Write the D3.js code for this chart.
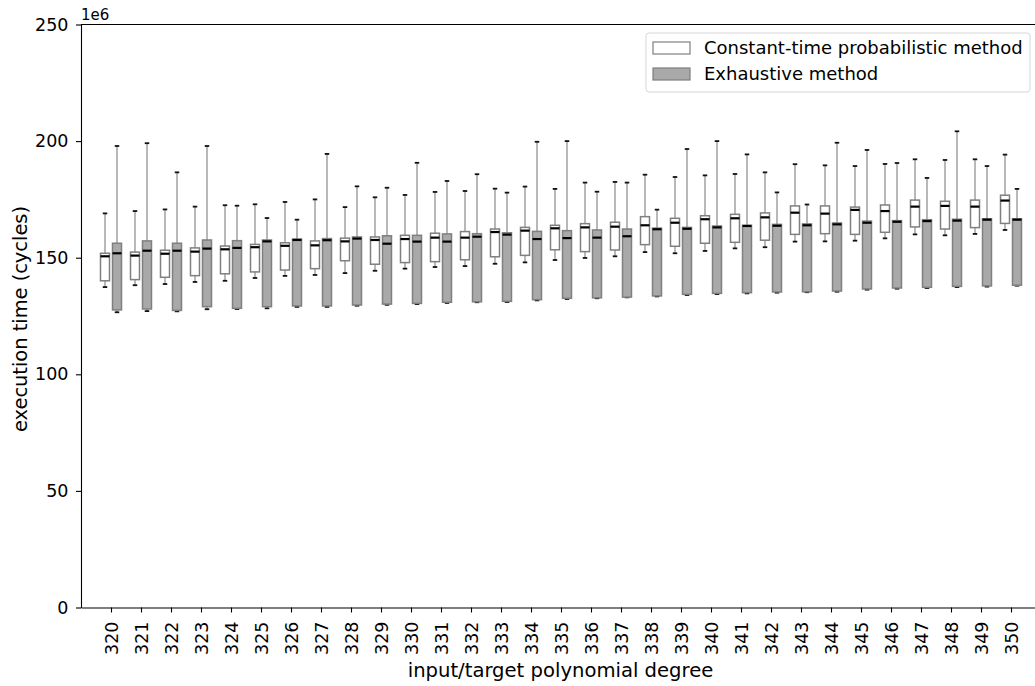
<!DOCTYPE html>
<html>
<head>
<meta charset="utf-8">
<script src="https://cdn.jsdelivr.net/npm/d3@7"></script>
<style>
  body { margin: 0; background: #fff; }
  text { font-family: "DejaVu Sans", sans-serif; }
</style>
</head>
<body>
<div id="chart"></div>
<script>
// polynomial degrees on the x axis
const degrees = d3.range(320, 351);

// values in 1e6 cycles: [lowWhisker, q1, median, q3, highWhisker]
const probLow  = [137.4,138.2,138.7,139.6,140.1,141.3,142.2,142.6,143.4,144.4,145.3,146.0,146.4,147.4,148.0,149.0,149.9,150.6,152.4,151.9,152.9,154.0,154.5,156.9,157.0,157.3,158.3,160.0,159.6,160.2,161.9];
const probQ1   = [140.1,140.6,141.6,142.3,143.1,143.9,144.7,145.3,148.7,147.2,147.9,148.3,149.1,150.4,151.0,153.4,152.6,153.3,155.6,154.9,156.2,156.6,157.5,160.0,160.3,160.0,160.9,163.2,162.3,162.9,164.7];
const probMed  = [150.6,150.9,151.7,152.6,153.6,154.5,155.1,155.3,157.0,157.6,158.0,158.6,158.6,161.0,161.6,162.6,163.0,163.3,163.9,165.0,166.5,166.9,167.3,169.3,168.9,170.5,170.0,171.9,172.2,171.9,174.5];
const probQ3   = [151.9,152.4,153.2,154.2,155.0,155.7,156.4,157.2,158.4,158.9,159.6,160.5,161.2,162.3,163.0,163.9,164.6,165.2,167.6,166.9,168.0,168.6,169.2,172.2,172.2,171.7,172.6,174.7,174.2,174.7,176.8];
const probHigh = [169.0,170.0,170.7,171.9,172.5,172.9,173.9,175.0,171.7,175.9,176.9,178.2,178.6,179.6,180.5,179.5,182.2,182.5,185.6,184.6,185.3,185.9,186.6,190.1,189.6,189.3,190.2,192.2,191.9,192.2,194.2];

const exhLow   = [126.6,127.1,127.0,127.9,128.0,128.3,128.9,128.9,129.4,129.8,130.1,130.6,130.9,131.0,131.7,132.3,132.6,133.0,133.4,134.0,134.4,134.7,135.0,135.2,135.4,136.3,136.7,137.0,137.4,137.6,138.0];
const exhQ1    = [127.6,128.0,127.4,129.0,128.3,129.0,129.3,129.3,129.7,130.1,130.4,130.9,131.1,131.3,132.0,132.6,132.8,133.1,133.6,134.3,134.7,135.0,135.3,135.4,135.7,136.6,137.0,137.3,137.7,137.9,138.2];
const exhMed   = [151.9,153.0,153.0,153.9,154.2,157.0,157.6,157.5,158.2,156.0,156.9,156.9,159.0,159.9,158.0,158.4,158.6,159.2,162.2,162.4,163.0,163.6,163.7,163.9,164.3,165.0,165.4,165.7,165.9,166.3,166.3];
const exhQ3    = [156.2,157.2,156.2,157.6,157.3,157.6,158.0,158.2,158.9,159.4,159.6,160.2,160.3,160.7,161.3,161.6,161.9,162.3,162.7,163.0,163.6,163.9,164.3,164.5,164.9,165.7,165.9,166.3,166.5,166.7,166.7];
const exhHigh  = [197.9,199.1,186.6,197.9,172.3,167.0,166.3,194.5,180.6,180.0,190.7,182.9,185.8,177.9,199.7,200.0,178.3,182.2,170.6,196.6,200.0,194.3,178.0,172.8,199.3,196.2,190.6,184.2,204.2,189.3,179.5];

const yTicks = [0, 50, 100, 150, 200, 250];
const seriesNames = ["Constant-time probabilistic method", "Exhaustive method"];

const W = 1035, H = 686;
const mLeft = 81, mTop = 24.5, mBottom = 607.5;

const svg = d3.select("#chart").append("svg")
  .attr("width", W).attr("height", H);

// x: position index (1 = first degree), 30px per unit
const x = d3.scaleLinear().domain([0, 32]).range([mLeft, mLeft + 32 * 30]);
const y = d3.scaleLinear().domain([0, 250]).range([mBottom, mTop]);

// build box rows for both series
function rows(lo, q1, med, q3, hi, off, fill, edge) {
  return degrees.map((d, i) => ({
    pos: i + 1 + off, lo: lo[i], q1: q1[i], med: med[i], q3: q3[i], hi: hi[i], fill, edge
  }));
}
const boxes = rows(probLow, probQ1, probMed, probQ3, probHigh, -0.2, "#ffffff", "#7f7f7f")
  .concat(rows(exhLow, exhQ1, exhMed, exhQ3, exhHigh, 0.2, "#a9a9a9", "#7f7f7f"));

const bw = x(0.3) - x(0);
const cw = x(0.15) - x(0);

const g = svg.append("g").selectAll("g").data(boxes).join("g");

// whiskers
g.append("line")
  .attr("x1", d => x(d.pos)).attr("x2", d => x(d.pos))
  .attr("y1", d => y(d.q3)).attr("y2", d => y(d.hi))
  .attr("stroke", "#a0a0a0").attr("stroke-width", 1.5);
g.append("line")
  .attr("x1", d => x(d.pos)).attr("x2", d => x(d.pos))
  .attr("y1", d => y(d.q1)).attr("y2", d => y(d.lo))
  .attr("stroke", "#a0a0a0").attr("stroke-width", 1.5);
// caps
g.append("line")
  .attr("x1", d => x(d.pos) - cw / 2).attr("x2", d => x(d.pos) + cw / 2)
  .attr("y1", d => y(d.hi)).attr("y2", d => y(d.hi))
  .attr("stroke", "#111").attr("stroke-width", 1.8);
g.append("line")
  .attr("x1", d => x(d.pos) - cw / 2).attr("x2", d => x(d.pos) + cw / 2)
  .attr("y1", d => y(d.lo)).attr("y2", d => y(d.lo))
  .attr("stroke", "#111").attr("stroke-width", 1.8);
// boxes
g.append("rect")
  .attr("x", d => x(d.pos) - bw / 2).attr("width", bw)
  .attr("y", d => y(d.q3)).attr("height", d => y(d.q1) - y(d.q3))
  .attr("fill", d => d.fill).attr("stroke", d => d.edge).attr("stroke-width", 1.5);
// medians
g.append("line")
  .attr("x1", d => x(d.pos) - bw / 2).attr("x2", d => x(d.pos) + bw / 2)
  .attr("y1", d => y(d.med)).attr("y2", d => y(d.med))
  .attr("stroke", "#000").attr("stroke-width", 2.2);

// axes
const xAxis = svg.append("g")
  .attr("transform", "translate(0," + mBottom + ")")
  .call(d3.axisBottom(x).tickValues(d3.range(1, degrees.length + 1))
    .tickFormat(i => degrees[i - 1]).tickSize(5).tickPadding(4).tickSizeOuter(0));
xAxis.selectAll("text")
  .attr("transform", "rotate(-90)")
  .attr("x", -14).attr("y", 0).attr("dy", "0.35em")
  .style("text-anchor", "end");

const yAxis = svg.append("g")
  .attr("transform", "translate(" + mLeft + ",0)")
  .call(d3.axisLeft(y).tickValues(yTicks).tickSize(5).tickPadding(7.5).tickSizeOuter(0));

svg.selectAll(".tick text").attr("font-size", 17.5).attr("fill", "#000")
  .attr("font-family", "DejaVu Sans, sans-serif");
svg.selectAll(".domain, .tick line").attr("stroke", "#000").attr("stroke-width", 1.1);

// frame top and right
svg.append("line").attr("x1", mLeft).attr("x2", x(32)).attr("y1", mTop).attr("y2", mTop)
  .attr("stroke", "#000").attr("stroke-width", 1.1);
svg.append("line").attr("x1", x(32)).attr("x2", x(32)).attr("y1", mTop).attr("y2", mBottom)
  .attr("stroke", "#000").attr("stroke-width", 1.1);

// labels
svg.append("text").attr("x", mLeft).attr("y", mTop - 5)
  .attr("font-size", 15).text("1e6");
svg.append("text").attr("x", 560.5).attr("y", 677)
  .attr("text-anchor", "middle").attr("font-size", 19.6).text("input/target polynomial degree");
svg.append("text").attr("transform", "translate(27," + 319 + ") rotate(-90)")
  .attr("text-anchor", "middle").attr("font-size", 19.4).text("execution time (cycles)");

// legend
const lg = svg.append("g").attr("transform", "translate(646,33)");
lg.append("rect").attr("width", 384).attr("height", 59).attr("rx", 3)
  .attr("fill", "#fff").attr("fill-opacity", 0.8).attr("stroke", "#d6d6d6");
const items = lg.selectAll("g.item").data(seriesNames).join("g")
  .attr("transform", (d, i) => "translate(7," + (9 + i * 26) + ")");
items.append("rect").attr("width", 37).attr("height", 12)
  .attr("fill", (d, i) => i ? "#a9a9a9" : "#fff").attr("stroke", "#7f7f7f").attr("stroke-width", 1.2);
items.append("text").attr("x", 51).attr("y", 6).attr("dy", "0.35em")
  .attr("font-size", 18).text(d => d);
</script>
</body>
</html>
